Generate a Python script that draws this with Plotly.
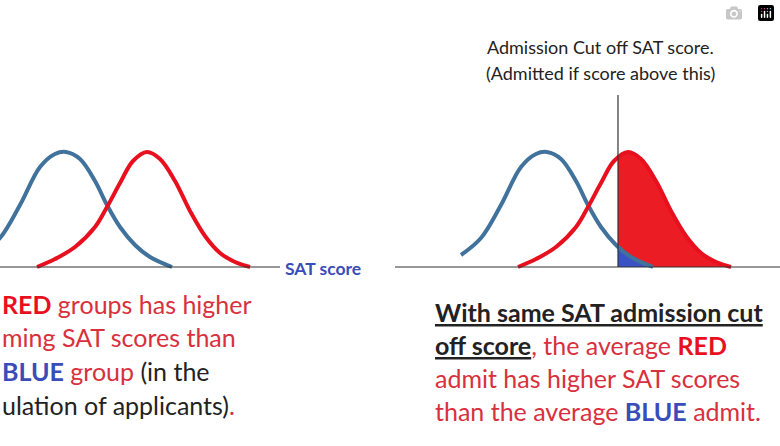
import plotly.graph_objects as go

# Curve shapes: x position (px), height above baseline (px)
blue_x = [-20, 0, 20, 40, 55, 66, 80, 95, 107, 120, 135, 150, 172]
blue_h = [12, 29, 62, 100, 113, 115, 108, 86, 62, 40, 22, 10, 0]
red_x = [37, 55, 75, 95, 107, 120, 133, 147, 160, 175, 190, 205, 220, 235, 250]
red_h = [0, 8, 20, 40, 60, 84, 106, 115, 108, 86, 56, 31, 14, 5, 0]
right_shift = 481
cutoff_x = 618
baseline = 267

RED = "#d8303c"
BRED = "#e8101e"
BLUE = "#3a4cb8"
CURVE_BLUE = "#41729c"

def interp(xs, hs, x):
    for i in range(len(xs) - 1):
        if xs[i] <= x <= xs[i + 1]:
            t = (x - xs[i]) / (xs[i + 1] - xs[i])
            return hs[i] + t * (hs[i + 1] - hs[i])
    return 0

fig = go.Figure()

rx = [x + right_shift for x in red_x]
bx = [x + right_shift for x in blue_x]
fx = [cutoff_x] + [x for x in rx if x > cutoff_x]
fh = [interp(rx, red_h, cutoff_x)] + [h for x, h in zip(rx, red_h) if x > cutoff_x]
fig.add_trace(go.Scatter(x=fx + [fx[-1], cutoff_x], y=[baseline - h for h in fh] + [baseline, baseline],
                         fill="toself", fillcolor="#ec1c24", line=dict(width=0), mode="lines"))
bfx = [cutoff_x] + [x for x in bx if x > cutoff_x]
bfh = [interp(bx, blue_h, cutoff_x)] + [h for x, h in zip(bx, blue_h) if x > cutoff_x]
fig.add_trace(go.Scatter(x=bfx + [bfx[-1], cutoff_x], y=[baseline - h for h in bfh] + [baseline, baseline],
                         fill="toself", fillcolor="#3b52c4", line=dict(width=0), mode="lines"))

for xs, hs, col in [(blue_x, blue_h, CURVE_BLUE), (red_x, red_h, BRED), (bx, blue_h, CURVE_BLUE), (rx, red_h, BRED)]:
    fig.add_trace(go.Scatter(x=xs, y=[baseline - h for h in hs], mode="lines",
                             line=dict(color=col, width=4, shape="spline")))

shapes = [
    dict(type="line", x0=0, x1=280, y0=baseline, y1=baseline, line=dict(color="#333", width=1.2)),
    dict(type="line", x0=395, x1=780, y0=baseline, y1=baseline, line=dict(color="#333", width=1.2)),
    dict(type="line", x0=cutoff_x, x1=cutoff_x, y0=95, y1=baseline, line=dict(color="#333", width=1.2)),
]

def ann(x, y, text, size=25, anchor="left"):
    return dict(x=x, y=y, text=text, showarrow=False, xanchor=anchor, yanchor="middle",
                font=dict(family="Lato, Open Sans, sans-serif", size=size, color="#222"))

def c(t, col, b=False):
    s = f"<span style='color:{col}'>{t}</span>"
    return f"<b>{s}</b>" if b else s

anns = [
    ann(283, 268, c("SAT score", BLUE, True), 17.5),
    ann(600, 47, "Admission Cut off SAT score.", 18, "center"),
    ann(600, 73, "(Admitted if score above this)", 18, "center"),
    ann(0, 304, c("RED", BRED, True) + c(" groups has higher", RED)),
    ann(0, 337, c("ming SAT scores than", RED)),
    ann(0, 371, c("BLUE", BLUE, True) + c(" group", RED) + " (in the"),
    ann(0, 405, "ulation of applicants)" + c(".", RED)),
    ann(433, 312, "<b><u>With same SAT admission cut</u></b>"),
    ann(433, 345, "<b><u>off score</u></b>" + c(", the average ", RED) + c("RED", BRED, True)),
    ann(433, 378, c("admit has higher SAT scores", RED)),
    ann(433, 411, c("than the average ", RED) + c("BLUE", BLUE, True) + c(" admit.", RED)),
]

fig.update_layout(width=780, height=446, margin=dict(l=0, r=0, t=0, b=0),
                  plot_bgcolor="white", paper_bgcolor="white", showlegend=False,
                  xaxis=dict(range=[0, 780], visible=False, fixedrange=True),
                  yaxis=dict(range=[446, 0], visible=False, fixedrange=True),
                  shapes=shapes, annotations=anns)
fig.write_html("out.html", post_script="document.body.style.margin='0';document.body.style.overflow='hidden';")
